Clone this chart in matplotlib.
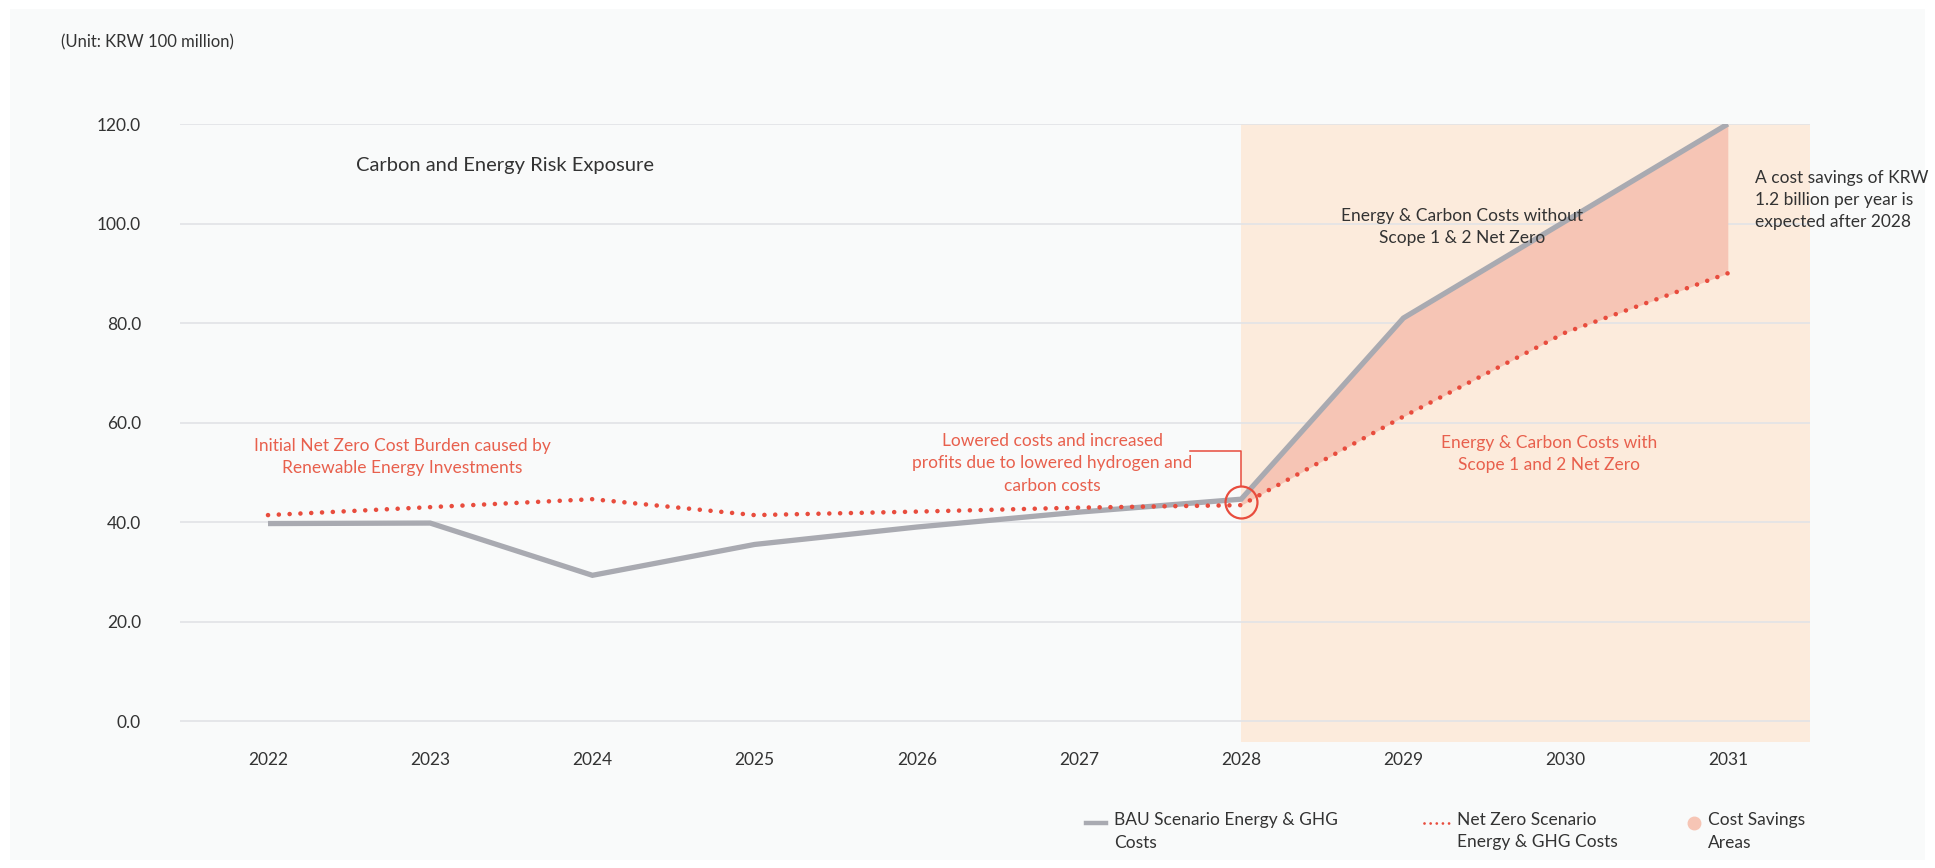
import matplotlib
matplotlib.use("Agg")
import matplotlib.pyplot as plt
from matplotlib.patches import Rectangle
from matplotlib.lines import Line2D
import numpy as np

plt.rcParams['font.family'] = ['Lato', 'DejaVu Sans']

years = ["2022", "2023", "2024", "2025", "2026", "2027", "2028", "2029", "2030", "2031"]
bau = [39.7, 39.8, 29.3, 35.5, 39.0, 42.0, 44.6, 81.0, 100.5, 120.0]
net_zero = [41.4, 43.0, 44.6, 41.4, 42.1, 42.9, 43.4, 61.2, 78.1, 90.0]
yticks = [0, 20, 40, 60, 80, 100, 120]

C_BAU = "#a9aab1"
C_NZ = "#e84c3d"
C_FILL = "#f6c5b5"
C_SHADE = "#fcebdc"
C_PANEL = "#f9fafa"
C_GRID = "#e2e3e6"
C_RED_TXT = "#e8604d"
C_TXT = "#333333"

W, H = 1935, 868
fig = plt.figure(figsize=(W / 100, H / 100), dpi=100)
fig.patch.set_facecolor("white")
fig.patches.append(Rectangle((10 / W, 1 - 860 / H), 1915 / W, 851 / H,
                             transform=fig.transFigure, facecolor=C_PANEL,
                             edgecolor="none", zorder=-5))

def fx(px):
    return px / W

def fy(py):
    return 1 - py / H

X0, DX = 268, 162.2
ax = fig.add_axes([fx(180), fy(742), fx(1810) - fx(180), fy(124) - fy(742)])
ax.set_facecolor("none")
x = np.arange(len(years))
ax.set_xlim((180 - X0) / DX, (1810 - X0) / DX)
ax.set_ylim(-4.2, 120)

for s in ax.spines.values():
    s.set_visible(False)
ax.set_yticks(yticks)
ax.set_yticklabels([f"{v:.1f}" for v in yticks])
ax.set_xticks(x)
ax.set_xticklabels(years)
ax.tick_params(axis="y", length=0, pad=28, labelsize=12.5, labelcolor=C_TXT)
ax.tick_params(axis="x", length=0, pad=7, labelsize=12.5, labelcolor=C_TXT)
ax.set_axisbelow(True)
ax.grid(axis="y", color=C_GRID, linewidth=1.2)
ax.grid(axis="x", visible=False)

i28 = years.index("2028")
ax.axvspan(i28, ax.get_xlim()[1], color=C_SHADE, zorder=0.2, linewidth=0)

xs = x[i28:]
ax.fill_between(xs, np.array(net_zero[i28:]), np.array(bau[i28:]),
                color=C_FILL, linewidth=0, zorder=1)

ax.plot(x, bau, color=C_BAU, linewidth=3.8, solid_capstyle="butt",
        solid_joinstyle="miter", zorder=3)
ax.plot(x, net_zero, color=C_NZ, linewidth=3.3, linestyle=(0, (0.01, 2.35)),
        dash_capstyle="round", zorder=4)

# circle highlight at 2028
ax.plot([i28], [44.0], marker="o", markersize=23, markerfacecolor="none",
        markeredgecolor=C_NZ, markeredgewidth=1.6, zorder=5)
ax.plot([i28, i28, (1190 - X0) / DX], [44.0 + 3.25, 54.3, 54.3], color=C_NZ,
        linewidth=1.1, zorder=5)

# texts
fig.text(fx(61), fy(42), "(Unit: KRW 100 million)", fontsize=12, color=C_TXT,
         ha="left", va="center")
fig.text(fx(356), fy(165), "Carbon and Energy Risk Exposure", fontsize=14.5,
         color=C_TXT, ha="left", va="center")
fig.text(fx(402), fy(457), "Initial Net Zero Cost Burden caused by\nRenewable Energy Investments",
         fontsize=12.5, color=C_RED_TXT, ha="center", va="center", linespacing=1.5)
fig.text(fx(1052), fy(463), "Lowered costs and increased\nprofits due to lowered hydrogen and\ncarbon costs",
         fontsize=12.5, color=C_RED_TXT, ha="center", va="center", linespacing=1.5)
fig.text(fx(1462), fy(227), "Energy & Carbon Costs without\nScope 1 & 2 Net Zero",
         fontsize=12.5, color=C_TXT, ha="center", va="center", linespacing=1.5)
fig.text(fx(1755), fy(200), "A cost savings of KRW\n1.2 billion per year is\nexpected after 2028",
         fontsize=12.5, color=C_TXT, ha="left", va="center", linespacing=1.5)
fig.text(fx(1549), fy(454), "Energy & Carbon Costs with\nScope 1 and 2 Net Zero",
         fontsize=12.5, color=C_RED_TXT, ha="center", va="center", linespacing=1.5)

# legend (manual)
leg_y = 823
fig.lines.append(Line2D([fx(1086), fx(1106)], [fy(leg_y), fy(leg_y)],
                        transform=fig.transFigure, color=C_BAU, linewidth=3.2))
fig.text(fx(1114), fy(leg_y - 11), "BAU Scenario Energy & GHG\nCosts", fontsize=12.5,
         color=C_TXT, ha="left", va="top", linespacing=1.5)
fig.lines.append(Line2D([fx(1424), fx(1452)], [fy(leg_y), fy(leg_y)],
                        transform=fig.transFigure, color=C_NZ, linewidth=2.0,
                        linestyle=(0, (0.01, 2.2)), dash_capstyle="round"))
fig.text(fx(1457), fy(leg_y - 11), "Net Zero Scenario\nEnergy & GHG Costs", fontsize=12.5,
         color=C_TXT, ha="left", va="top", linespacing=1.5)
fig.lines.append(Line2D([fx(1694)], [fy(leg_y)], transform=fig.transFigure,
                        marker="o", markersize=9, color=C_FILL, linestyle="none"))
fig.text(fx(1708), fy(leg_y - 11), "Cost Savings\nAreas", fontsize=12.5,
         color=C_TXT, ha="left", va="top", linespacing=1.5)

fig.savefig("out.png", dpi=100, facecolor=fig.get_facecolor())
